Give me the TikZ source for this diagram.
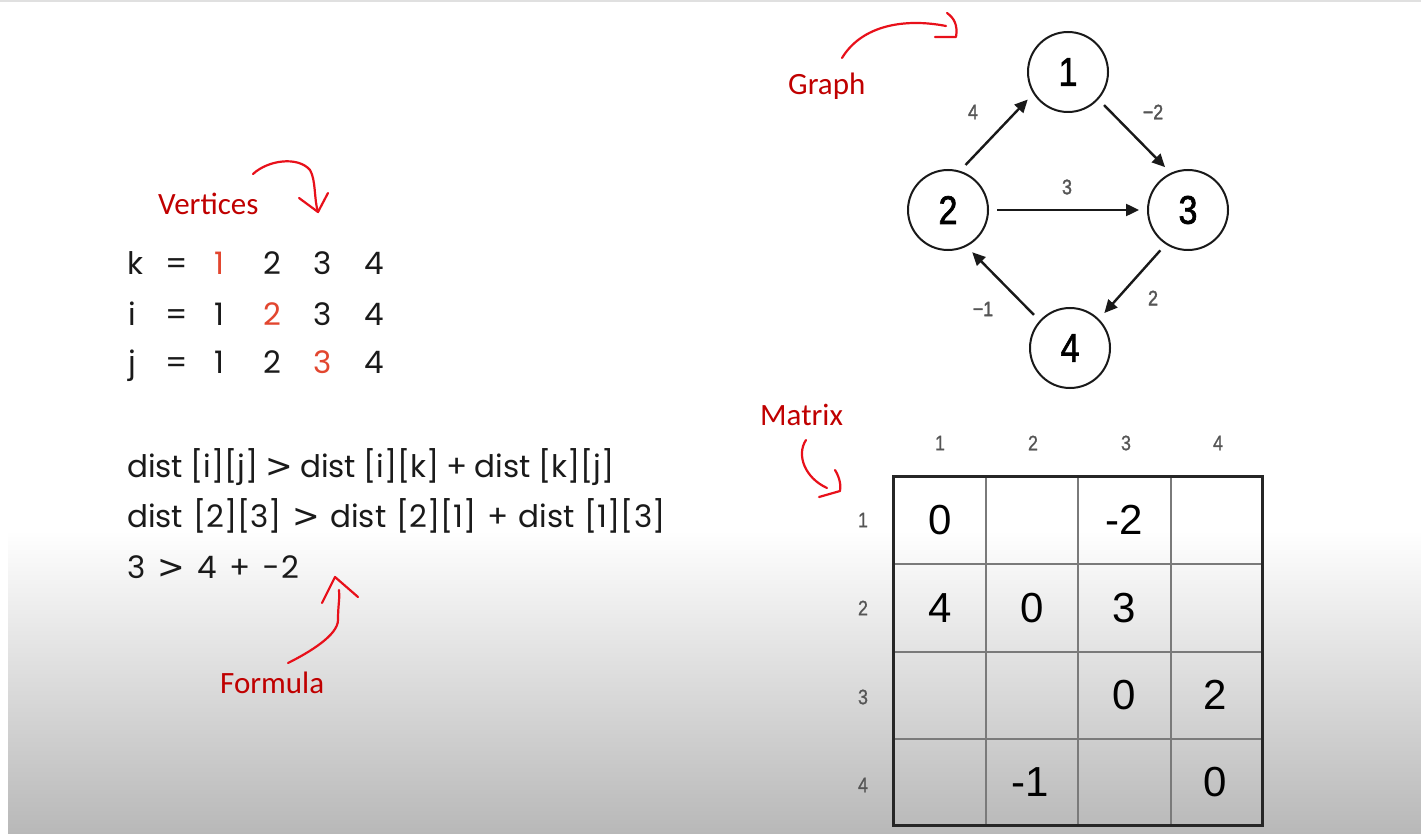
\documentclass[tikz,border=0pt]{standalone}
\usepackage{fontspec}
\setmainfont{Poppins}[Numbers=Monospaced]
\newfontfamily\annfont{Carlito}
\newfontfamily\gtfont{DejaVu Sans}
\newfontfamily\dinfont[FakeStretch=0.85,FakeBold=0.8]{Liberation Sans}
\newfontfamily\dinbold[FakeStretch=0.85,FakeBold=1.6]{Liberation Sans}
\newfontfamily\arialfont{Liberation Sans}
\newcommand{\biggt}{{\gtfont\fontsize{33}{33}\selectfont >}}
\newcommand{\wsp}[1]{\spaceskip=\dimexpr\fontdimen2\font+#1\relax}
\usetikzlibrary{arrows.meta}
\definecolor{annred}{HTML}{C00000}
\definecolor{penred}{HTML}{E8101A}
\definecolor{vred}{HTML}{E2462F}
\definecolor{txt}{HTML}{1A1A1A}
\definecolor{lbl}{HTML}{555555}
\definecolor{bggray}{HTML}{B8B8B8}
\definecolor{topline}{HTML}{E0E0E0}
\definecolor{gridgray}{HTML}{7A7A7A}
\tikzset{
  ann/.style={font=\annfont\fontsize{31}{31}\selectfont, text=annred, inner sep=0, anchor=base west},
  pen/.style={draw=penred, line width=2.2pt, line cap=round, line join=round},
  vtx/.style={circle, draw=black!90, line width=2pt, minimum size=80pt, inner sep=0, font=\dinbold\fontsize{40}{40}\selectfont},
  edge/.style={line width=2.4pt, draw=black!90, shorten <=8pt, shorten >=8pt, -{Triangle[length=13pt,width=12pt]}},
  elbl/.style={font=\dinbold\fontsize{21}{21}\selectfont, text=lbl, inner sep=0},
  vrow/.style={font=\fontsize{31}{31}\selectfont, text=txt, inner sep=0, anchor=base},
  frow/.style={font=\fontsize{31}{31}\selectfont, text=txt, inner sep=0, anchor=base west},
  cell/.style={font=\arialfont\fontsize{42}{42}\selectfont, text=black, inner sep=0},
  hdr/.style={font=\dinfont\fontsize{21}{21}\selectfont, text=lbl, inner sep=0},
}
\begin{document}
\begin{tikzpicture}[x=1pt,y=-1pt]
\useasboundingbox (0,0) rectangle (1421,834);
% background
\fill[white] (0,0) rectangle (1421,834);
\shade[top color=white, bottom color=bggray] (8,530) rectangle (1421,834);
\fill[topline] (0,0) rectangle (1421,2);

% ---------- annotations ----------
\node[ann] (tvert) at (158,215) {Vertices};
\node[ann] (tgraph) at (788,95) {Graph};
\node[ann] (tmatrix) at (760,425) {Matrix};
\node[ann] (tformula) at (220,693) {Formula};

\draw[pen] (253,174) .. controls (268,160) and (298,156) .. (310,170) .. controls (316,180) and (314,200) .. (318,212);
\draw[pen] (299,198) -- (318,212) -- (328,193);

\draw[pen] (842,58) .. controls (862,25) and (905,18) .. (946,26);
\draw[pen] (947,13) .. controls (954,18) and (958,25) .. (956,37) -- (935,37);

\draw[pen] (806,440) .. controls (796,455) and (805,478) .. (827,488);
\draw[pen] (835,470) .. controls (840,478) and (841,486) .. (840,491) -- (819,497);

\draw[pen] (288,663) .. controls (310,652) and (338,635) .. (338,620) .. controls (338,605) and (340,598) .. (339,590);
\draw[pen] (322,603) -- (335,577) -- (358,597);

% ---------- vertices rows ----------
\node[vrow] (kk) at (135,275) {k};
\node[vrow] (ke) at (177,275) {=};
\node[vrow,text=vred] (k1) at (219,275) {1};
\node[vrow] (k2) at (272,275) {2};
\node[vrow] (k3) at (323,275) {3};
\node[vrow] (k4) at (374,275) {4};
\node[vrow] (ii) at (132,325) {i};
\node[vrow] (ie) at (177,325) {=};
\node[vrow] (i1) at (219,325) {1};
\node[vrow,text=vred] (i2) at (272,325) {2};
\node[vrow] (i3) at (323,325) {3};
\node[vrow] (i4) at (374,325) {4};
\node[vrow] (jj) at (132,373) {j};
\node[vrow] (je) at (177,373) {=};
\node[vrow] (j1) at (219,373) {1};
\node[vrow] (j2) at (272,373) {2};
\node[vrow,text=vred] (j3) at (323,373) {3};
\node[vrow] (j4) at (374,373) {4};

% ---------- formula rows ----------
\node[frow] (f1) at (127,477) {\wsp{-1.1pt}dist [i][j] \biggt{} dist [i][k] + dist [k][j]};
\node[frow] (f2) at (127,527) {\wsp{2pt}dist [2][3] \biggt{} dist [2][1] + dist [1][3]};
\node[frow] (f3) at (127,578) {\wsp{4pt}3 \biggt{} 4 + \char"2212\kern2pt 2};

% ---------- graph ----------
\node[vtx] (n1) at (1068,72) {1};
\node[vtx] (n2) at (948,210) {2};
\node[vtx] (n3) at (1188,210) {3};
\node[vtx] (n4) at (1070,348) {4};
\draw[edge] (n2.73) -- (n1.212);
\draw[edge] (n1.-42) -- (n3.115);
\draw[edge] (n2.0) -- (n3.180);
\draw[edge] (n3.237) -- (n4.45);
\draw[edge] (n4.138) -- (n2.-63);
\node[elbl] (l21) at (973,112) {4};
\node[elbl] (l13) at (1153,112) {\char"2212 2};
\node[elbl] (l23) at (1067,187) {3};
\node[elbl] (l34) at (1153,298) {2};
\node[elbl] (l42) at (983,309) {\char"2212 1};

% ---------- matrix ----------
\draw[gridgray, line width=1.5pt]
  (986,476) -- (986,825) (1078,476) -- (1078,825) (1171,476) -- (1171,825)
  (893,564) -- (1262,564) (893,652) -- (1262,652) (893,739) -- (1262,739);
\draw[black!85, line width=3pt] (893,476) rectangle (1262,825);
\node[hdr] (h1) at (940,443) {1};
\node[hdr] (h2) at (1033,443) {2};
\node[hdr] (h3) at (1126,443) {3};
\node[hdr] (h4) at (1218,443) {4};
\node[hdr] (r1) at (863,520) {1};
\node[hdr] (r2) at (863,608) {2};
\node[hdr] (r3) at (863,697) {3};
\node[hdr] (r4) at (863,785) {4};
\node[cell] (c11) at (940,520) {0};
\node[cell] (c13) at (1124,520) {-2};
\node[cell] (c21) at (940,608) {4};
\node[cell] (c22) at (1032,608) {0};
\node[cell] (c23) at (1124,608) {3};
\node[cell] (c33) at (1124,695) {0};
\node[cell] (c34) at (1215,695) {2};
\node[cell] (c42) at (1030,782) {-1};
\node[cell] (c44) at (1215,782) {0};
\end{tikzpicture}
\end{document}
